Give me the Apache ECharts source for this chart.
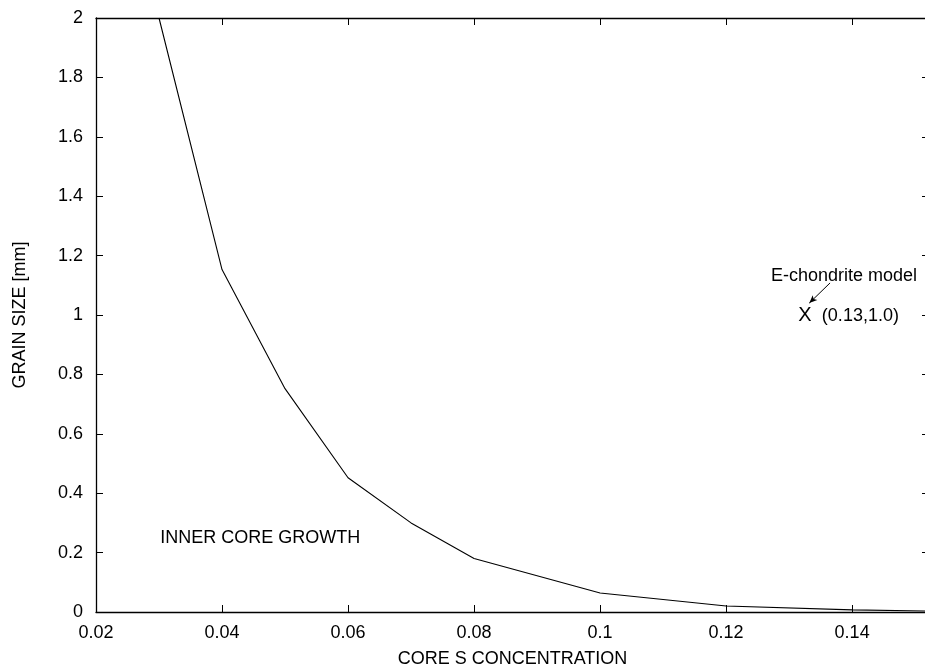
<!DOCTYPE html>
<html>
<head>
<meta charset="utf-8">
<script src="https://cdn.jsdelivr.net/npm/echarts@6/dist/echarts.min.js"></script>
<style>html,body{margin:0;padding:0;background:#fff}#c{width:925px;height:669px}</style>
</head>
<body>
<div id="c"></div>
<script>
// Data
const sConc = [0.03, 0.04, 0.05, 0.06, 0.07, 0.08, 0.10, 0.12, 0.14, 0.153];
const grainSize = [2.0, 1.153, 0.752, 0.452, 0.300, 0.180, 0.064, 0.020, 0.007, 0.003];
const xTicks = [0.02, 0.04, 0.06, 0.08, 0.1, 0.12, 0.14];
const yTicks = [0, 0.2, 0.4, 0.6, 0.8, 1, 1.2, 1.4, 1.6, 1.8, 2];
const modelPoint = [0.1325, 1.0];
const modelArrow = [[0.1365, 1.108], [0.1332, 1.04]];
const labelModel = 'E-chondrite model';
const labelCoord = '(0.13,1.0)';
const labelGrowth = 'INNER CORE GROWTH';
const growthPos = [0.0302, 0.25];
const modelLabelPos = [0.1503, 1.13];

const FONT = 'Liberation Sans, Arial, Helvetica, sans-serif';
const FS = 18;
const chart = echarts.init(document.getElementById('c'));
const tickStyle = {show: true, inside: true, length: 7, lineStyle: {color: '#000', width: 1}};
const axLine = {show: true, onZero: false, lineStyle: {color: '#000', width: 1.3}};
const fmt = v => String(Math.round(v * 100) / 100);
const txt = {fontFamily: FONT, fontSize: FS, color: '#000', textBorderWidth: 0};
chart.setOption({
  animation: false,
  backgroundColor: '#fff',
  grid: {left: 96, top: 18, bottom: 57, right: -4, containLabel: false, outerBoundsMode: 'none'},
  xAxis: [
    {type: 'value', position: 'bottom', min: 0.02, max: 0.1522, interval: 0.02,
     name: 'CORE S CONCENTRATION', nameLocation: 'middle', nameGap: 38,
     nameTextStyle: txt,
     axisLine: axLine, splitLine: {show: false},
     axisTick: Object.assign({customValues: xTicks}, tickStyle),
     axisLabel: Object.assign({customValues: xTicks, formatter: fmt, margin: 12}, txt)},
    {type: 'value', position: 'top', min: 0.02, max: 0.1522, interval: 0.02,
     axisLine: axLine, splitLine: {show: false},
     axisTick: Object.assign({customValues: xTicks}, tickStyle),
     axisLabel: {show: false}}
  ],
  yAxis: [
    {type: 'value', position: 'left', min: 0, max: 2, interval: 0.2,
     name: 'GRAIN SIZE [mm]', nameLocation: 'middle', nameGap: 67, nameRotate: 90,
     nameTextStyle: txt,
     axisLine: axLine, splitLine: {show: false},
     axisTick: Object.assign({customValues: yTicks}, tickStyle),
     axisLabel: Object.assign({customValues: yTicks, formatter: fmt, margin: 13}, txt)},
    {type: 'value', position: 'right', min: 0, max: 2, interval: 0.2,
     axisLine: axLine, splitLine: {show: false},
     axisTick: Object.assign({customValues: yTicks}, tickStyle),
     axisLabel: {show: false}}
  ],
  series: [
    {type: 'line', data: sConc.map((x, i) => [x, grainSize[i]]),
     showSymbol: false, symbol: 'none', lineStyle: {color: '#000', width: 1.1},
     clip: true},
    {type: 'scatter', symbolSize: 0, silent: true, itemStyle: {color: '#000', opacity: 1},
     data: [
       {value: modelPoint, label: Object.assign({show: true, formatter: 'X', position: 'inside'}, txt, {fontSize: 20})},
       {value: modelPoint, label: Object.assign({show: true, formatter: labelCoord, position: 'inside', align: 'left', offset: [17, 1]}, txt)},
       {value: modelLabelPos, label: Object.assign({show: true, formatter: labelModel, position: 'inside', align: 'right'}, txt)},
       {value: growthPos, label: Object.assign({show: true, formatter: labelGrowth, position: 'inside', align: 'left'}, txt)}
     ],
     markLine: {silent: true, symbol: ['none', 'arrow'], symbolSize: [5, 8],
       label: {show: false},
       lineStyle: {color: '#000', width: 1, type: 'solid'},
       data: [[{coord: modelArrow[0]}, {coord: modelArrow[1]}]]}
    }
  ]
});
</script>
</body>
</html>
